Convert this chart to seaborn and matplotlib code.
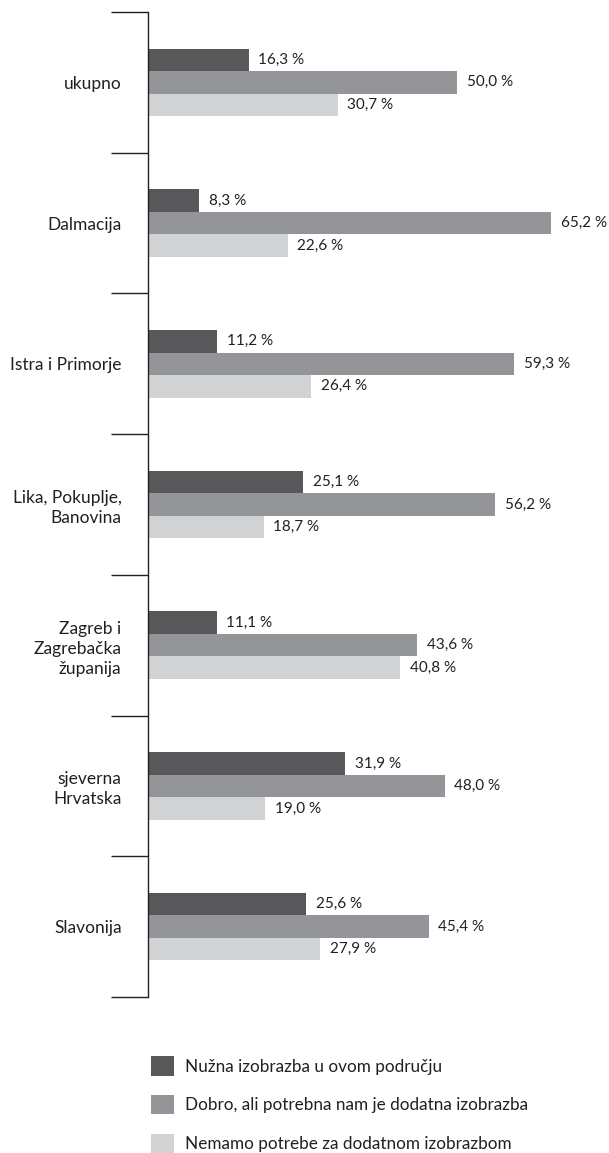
import matplotlib.pyplot as plt
import pandas as pd
import seaborn as sns

REGIONS = [
    "ukupno",
    "Dalmacija",
    "Istra i Primorje",
    "Lika, Pokuplje,\nBanovina",
    "Zagreb i\nZagrebačka\nžupanija",
    "sjeverna\nHrvatska",
    "Slavonija",
]
ANSWERS = [
    "Nužna izobrazba u ovom području",
    "Dobro, ali potrebna nam je dodatna izobrazba",
    "Nemamo potrebe za dodatnom izobrazbom",
]
NUZNA = [16.3, 8.3, 11.2, 25.1, 11.1, 31.9, 25.6]
DODATNA = [50.0, 65.2, 59.3, 56.2, 43.6, 48.0, 45.4]
NEMAMO = [30.7, 22.6, 26.4, 18.7, 40.8, 19.0, 27.9]
COLORS = ["#58585a", "#939598", "#d1d2d4"]
INK = "#231f20"


def build_frame() -> pd.DataFrame:
    rows = []
    for answer, values in zip(ANSWERS, [NUZNA, DODATNA, NEMAMO]):
        for region, value in zip(REGIONS, values):
            rows.append({"regija": region, "odgovor": answer, "udio": value})
    return pd.DataFrame(rows)


def main() -> None:
    sns.set_style("white")
    plt.rcParams["font.family"] = ["Lato", "DejaVu Sans"]

    df = build_frame()
    fig = plt.figure(figsize=(6.09, 11.53), dpi=100)
    ax = fig.add_axes([148 / 609, 156 / 1153, 1 - 148 / 609, 985 / 1153])

    sns.barplot(
        data=df,
        y="regija",
        x="udio",
        hue="odgovor",
        order=REGIONS,
        hue_order=ANSWERS,
        palette=COLORS,
        orient="h",
        width=0.48,
        saturation=1,
        edgecolor="none",
        linewidth=0,
        ax=ax,
    )

    handles, labels = ax.get_legend_handles_labels()
    ax.get_legend().remove()

    for container in ax.containers:
        values = container.datavalues
        ax.bar_label(
            container,
            labels=[f"{v:.1f} %".replace(".", ",") for v in values],
            padding=7,
            fontsize=11,
            color=INK,
        )

    ax.set_xlim(0, 74.6)
    ax.set_ylim(len(REGIONS) - 0.5, -0.5)
    ax.set_xlabel("")
    ax.set_ylabel("")
    ax.set_xticks([])

    sns.despine(ax=ax, left=False, bottom=True, top=True, right=True)
    ax.spines["left"].set_color(INK)
    ax.spines["left"].set_linewidth(1.0)

    ax.set_yticks(range(len(REGIONS)))
    ax.set_yticklabels(REGIONS, multialignment="right", linespacing=1.3)
    ax.tick_params(axis="y", which="major", length=0, pad=19, labelsize=12.5, labelcolor=INK)
    ax.set_yticks([i - 0.5 for i in range(len(REGIONS) + 1)], minor=True)
    ax.tick_params(axis="y", which="minor", length=27, width=1.0, color=INK, direction="out", left=True)

    fig.legend(
        handles,
        labels,
        loc="upper left",
        bbox_to_anchor=(136 / 609, 1 - 1041 / 1153),
        frameon=False,
        fontsize=12.3,
        handlelength=1.35,
        handleheight=1.35,
        handletextpad=0.6,
        labelspacing=1.15,
        labelcolor=INK,
    )

    fig.savefig("out.png", dpi=100)
    plt.close(fig)


if __name__ == "__main__":
    main()
